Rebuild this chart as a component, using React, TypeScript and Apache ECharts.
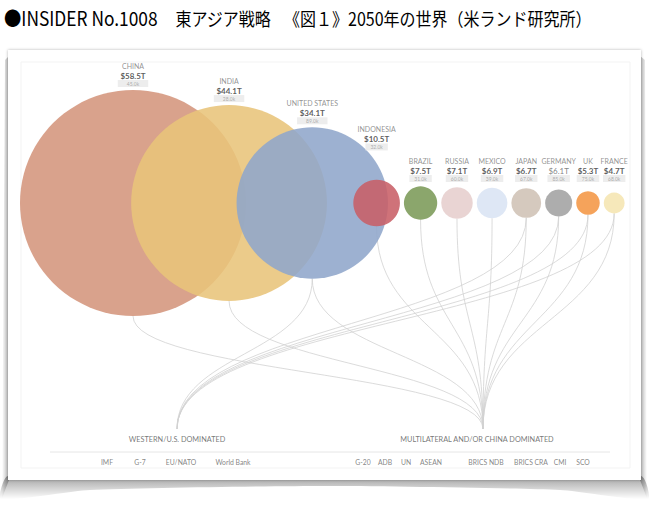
import React, { useEffect, useRef } from 'react';
import * as echarts from 'echarts';

// ---------- DATA ----------
const countries = ['CHINA', 'INDIA', 'UNITED STATES', 'INDONESIA', 'BRAZIL', 'RUSSIA', 'MEXICO', 'JAPAN', 'GERMANY', 'UK', 'FRANCE'];
const gdpTrillions = [58.5, 44.1, 34.1, 10.5, 7.5, 7.1, 6.9, 6.7, 6.1, 5.3, 4.7];
const perCapitaK = [45.0, 28.0, 89.0, 32.0, 31.0, 60.0, 39.0, 67.0, 85.0, 75.0, 68.0];
const westernMembers = ['UNITED STATES', 'JAPAN', 'GERMANY', 'UK', 'FRANCE'];
const multilateralMembers = ['CHINA', 'INDIA', 'UNITED STATES', 'INDONESIA', 'BRAZIL', 'RUSSIA', 'MEXICO', 'JAPAN', 'GERMANY', 'UK', 'FRANCE'];
const hubNames = ['WESTERN/U.S. DOMINATED', 'MULTILATERAL AND/OR CHINA DOMINATED'];
const westernInstitutions = ['IMF', 'G-7', 'EU/NATO', 'World Bank'];
const multilateralInstitutions = ['G-20', 'ADB', 'UN', 'ASEAN', 'BRICS NDB', 'BRICS CRA', 'CMI', 'SCO'];
const titleParts = ['●INSIDER No.1008', '東アジア戦略', '《図１》2050年の世界（米ランド研究所）'];

// ---------- STYLE / LAYOUT ----------
const COLORS = ['#d4957c', '#e8c47a', '#8fa6cb', '#c85e67', '#7b9a58', '#e6cecd', '#d9e4f4', '#cfc2b5', '#a2a2a2', '#f49644', '#f5e5b1'];
const MUTED_VALUE = ['GERMANY'];
const ROW_Y = 203;
const LEFT_EDGE = 20;
const CIRCLE_GAP = 4;
const RADIUS_PER_T = 2.22;
const MAX_RADIUS = 113;
const OVERLAP_FACTOR = 0.85;
const LABEL_GAP = 3;
const LABEL_ROW_MAX = 182;
const HUB_Y = 429;
const HUB_X = [177, 483];
const HUB_LABEL_Y = 439;
const HUB_LABEL_SHIFT = [0, -6];
const INST_Y = 462;
const westernInstX = [107, 140, 181, 233];
const multilateralInstX = [363, 385, 406, 431, 486, 531, 560, 583];
const FONT = 'Lato, "Open Sans", sans-serif';
const CJK = '"Noto Sans CJK JP", sans-serif';

const radius = (v: number) => Math.min(v * RADIUS_PER_T, MAX_RADIUS);
const radii = gdpTrillions.map(radius);
const xs: number[] = [];
radii.forEach((r, i) => {
  if (i === 0) xs.push(LEFT_EDGE + r);
  else {
    const pr = radii[i - 1];
    xs.push(xs[i - 1] + (pr > 50 ? OVERLAP_FACTOR * pr : pr + CIRCLE_GAP + r));
  }
});
const labelBottoms = radii.map((r, i) => {
  let b = ROW_Y - r - LABEL_GAP;
  if (i > 0) {
    const px = xs[i - 1], pr = radii[i - 1];
    const x = xs[i] - 8;
    if (Math.abs(x - px) < pr) {
      const t = ROW_Y - Math.sqrt(pr * pr - (x - px) * (x - px)) - 2;
      b = Math.min(b, t);
    }
  }
  return Math.min(b, LABEL_ROW_MAX);
});

const links: number[][] = [];
countries.forEach((c, i) => {
  if (westernMembers.includes(c)) links.push([xs[i], ROW_Y + radii[i], HUB_X[0], HUB_Y]);
  if (multilateralMembers.includes(c)) links.push([xs[i], ROW_Y + radii[i], HUB_X[1], HUB_Y]);
});

export default function App() {
  const ref = useRef<HTMLDivElement>(null);
  useEffect(() => {
    if (!ref.current) return;
    const chart = echarts.init(ref.current, undefined, { renderer: 'svg' });
    const option: any = {
      animation: false,
      backgroundColor: '#ffffff',
      grid: { left: 0, right: 0, top: 0, bottom: 0 },
      xAxis: { type: 'value', min: 0, max: 650, show: false },
      yAxis: { type: 'value', min: 0, max: 505, inverse: true, show: false },
      graphic: [
        {
          type: 'text', z: 10, silent: true,
          x: 4, y: 18, scaleX: 0.89,
          style: {
            text: `{a|${titleParts[0]}}{g1| }{b|${titleParts[1]}}{g2| }{b|${titleParts[2]}}`,
            verticalAlign: 'middle',
            fill: '#000',
            rich: {
              a: { fontFamily: CJK, fontSize: 19.5, fill: '#000' },
              b: { fontFamily: CJK, fontSize: 18, fill: '#000' },
              g1: { fontSize: 18, width: 20 },
              g2: { fontSize: 18, width: 14 },
            },
          },
        },
        {
          type: 'polygon', z: -5, silent: true,
          shape: { points: [[8, 476], [641, 476], [648, 499], [560, 490], [325, 486], [90, 490], [1, 499]], smooth: 0.2 },
          style: {
            fill: new echarts.graphic.LinearGradient(0, 0, 0, 1, [
              { offset: 0, color: 'rgba(0,0,0,0.42)' },
              { offset: 1, color: 'rgba(0,0,0,0)' },
            ]),
          },
        },
        {
          type: 'polygon', z: -5, silent: true,
          shape: { points: [[9, 56], [9, 480], [2, 498], [5, 60]] },
          style: {
            fill: new echarts.graphic.LinearGradient(1, 0, 0, 0, [
              { offset: 0, color: 'rgba(0,0,0,0.3)' },
              { offset: 1, color: 'rgba(0,0,0,0)' },
            ]),
          },
        },
        {
          type: 'polygon', z: -5, silent: true,
          shape: { points: [[640, 56], [640, 480], [647, 498], [645, 60]] },
          style: {
            fill: new echarts.graphic.LinearGradient(0, 0, 1, 0, [
              { offset: 0, color: 'rgba(0,0,0,0.3)' },
              { offset: 1, color: 'rgba(0,0,0,0)' },
            ]),
          },
        },
        {
          type: 'rect', z: -4, silent: true,
          shape: { x: 8, y: 50, width: 633, height: 430 },
          style: { fill: '#ffffff', shadowBlur: 3, shadowColor: 'rgba(0,0,0,0.3)' },
        },
        {
          type: 'rect', z: -3, silent: true,
          shape: { x: 21, y: 62, width: 609, height: 406 },
          style: { fill: null, stroke: '#f3f3f3', lineWidth: 1 },
        },
        {
          type: 'line', z: -3, silent: true,
          shape: { x1: 50, y1: 452, x2: 610, y2: 452 },
          style: { stroke: '#e6e6e6', lineWidth: 1 },
        },
      ],
      series: [
        {
          type: 'custom',
          silent: true,
          z: 1,
          encode: { x: [0, 2], y: [1, 3] },
          data: links,
          renderItem: (params: any, api: any) => {
            const p0 = api.coord([api.value(0), api.value(1)]);
            const p1 = api.coord([api.value(2), api.value(3)]);
            const my = (p0[1] + p1[1]) / 2;
            return {
              type: 'bezierCurve',
              shape: { x1: p0[0], y1: p0[1], cpx1: p0[0], cpy1: my, cpx2: p1[0], cpy2: my, x2: p1[0], y2: p1[1] },
              style: { stroke: '#d2d2d2', lineWidth: 0.8, fill: null },
            };
          },
        },
        {
          type: 'scatter',
          silent: true,
          z: 3,
          data: countries.map((c, i) => ({
            name: c,
            value: [xs[i], ROW_Y],
            symbolSize: radii[i] * 2,
            itemStyle: { color: COLORS[i], opacity: 0.88 },
          })),
        },
        {
          type: 'scatter',
          silent: true,
          z: 4,
          symbolSize: 1,
          itemStyle: { color: 'rgba(0,0,0,0)' },
          data: countries.map((c, i) => ({ name: c, value: [xs[i], labelBottoms[i]] })),
          label: {
            show: true,
            position: 'top',
            distance: 0,
            formatter: (p: any) => {
              const i = p.dataIndex;
              const vKey = MUTED_VALUE.includes(countries[i]) ? 'm' : 'v';
              const pKey = radii[i] > 50 ? 'pb' : 'ps';
              return `{n|${countries[i]}}\n{${vKey}|$${gdpTrillions[i].toFixed(1)}T}\n{${pKey}|${perCapitaK[i].toFixed(1)}k}`;
            },
            rich: {
              n: { fontFamily: FONT, fontSize: 7, color: '#777', lineHeight: 10, align: 'center' },
              v: { fontFamily: FONT, fontSize: 8, fontWeight: 'bold', color: '#333', lineHeight: 10, align: 'center' },
              m: { fontFamily: FONT, fontSize: 8, color: '#666', lineHeight: 10, align: 'center' },
              pb: { fontFamily: FONT, fontSize: 5, color: '#999', backgroundColor: '#e8e8e8', padding: [1, 9], lineHeight: 6, align: 'center' },
              ps: { fontFamily: FONT, fontSize: 5, color: '#999', backgroundColor: '#e8e8e8', padding: [1, 5], lineHeight: 6, align: 'center' },
            },
          },
        },
        {
          type: 'scatter',
          silent: true,
          z: 4,
          symbolSize: 1,
          itemStyle: { color: 'rgba(0,0,0,0)' },
          data: hubNames.map((h, i) => ({ name: h, value: [HUB_X[i], HUB_LABEL_Y], label: { offset: [HUB_LABEL_SHIFT[i], 0] } })),
          label: {
            show: true,
            position: 'inside',
            formatter: (p: any) => p.name,
            fontFamily: FONT, fontSize: 7.3, color: '#555',
          },
        },
        {
          type: 'scatter',
          silent: true,
          z: 4,
          symbolSize: 1,
          itemStyle: { color: 'rgba(0,0,0,0)' },
          data: [
            ...westernInstitutions.map((n, i) => ({ name: n, value: [westernInstX[i], INST_Y] })),
            ...multilateralInstitutions.map((n, i) => ({ name: n, value: [multilateralInstX[i], INST_Y] })),
          ],
          label: {
            show: true,
            position: 'inside',
            formatter: (p: any) => p.name,
            fontFamily: FONT, fontSize: 6.8, color: '#666',
          },
        },
      ],
    };
    chart.setOption(option);
    return () => chart.dispose();
  }, []);
  return <div ref={ref} style={{ position: 'absolute', left: 0, top: 0, width: 650, height: 505 }} />;
}
